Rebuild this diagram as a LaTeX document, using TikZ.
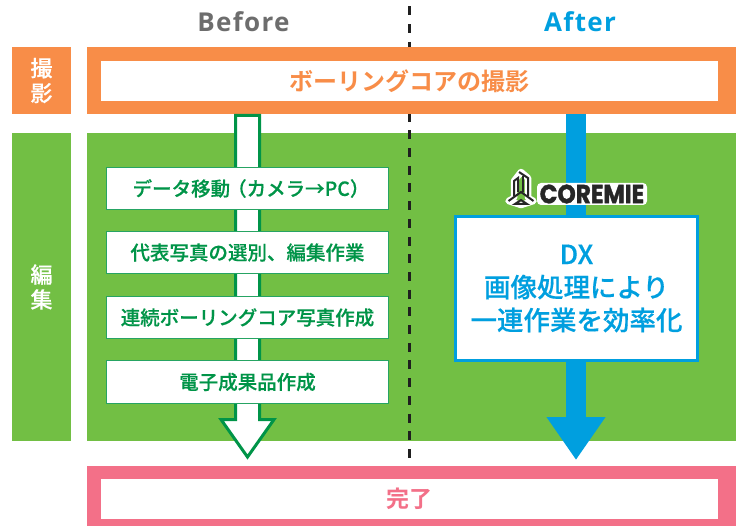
\documentclass[tikz,border=0pt]{standalone}
\usepackage{fontspec}
\setmainfont{Noto Sans CJK JP}[UprightFont=* Medium,BoldFont=* Bold]
\newfontfamily\semifont[UprightFont=* Medium,FakeBold=0.35]{Noto Sans CJK JP}
\newfontfamily\headfont[LetterSpace=5]{Open Sans}
\newfontfamily\logofont[FakeBold=1.5]{Poppins}
\usetikzlibrary{arrows.meta,calc}
\definecolor{shootorange}{HTML}{F88D48}
\definecolor{editgreen}{HTML}{72BF44}
\definecolor{darkgreen}{HTML}{009448}
\definecolor{dxblue}{HTML}{009FDF}
\definecolor{donepink}{HTML}{F37088}
\definecolor{headgray}{HTML}{6D6D6D}
\newcommand{\fsize}[1]{\fontsize{#1}{#1}\selectfont\bfseries}
\newcommand{\msize}[1]{\semifont\fontsize{#1}{#1}\selectfont}
\tikzstyle{panel}=[rectangle,inner sep=0pt,outer sep=0pt,text=white,align=center]
\tikzstyle{inbar}=[rectangle,fill=white,inner sep=0pt,outer sep=0pt,minimum width=617pt,minimum height=40pt]
\tikzstyle{task}=[rectangle,draw=darkgreen!85!white,fill=white,line width=1pt,inner sep=0pt,minimum width=282pt,minimum height=42pt,text=darkgreen,font=\msize{19.5}]
\tikzstyle{hollow}=[draw=darkgreen,fill=white,line width=3pt,miter limit=10]
\tikzstyle{solid}=[dxblue,line width=20pt]
\tikzstyle{logo}=[line width=2pt,draw=black!85]
\begin{document}
\begin{tikzpicture}[x=1pt,y=-1pt]
	\useasboundingbox (0,0) rectangle (736,526);
	\def \bx {247.5};
	\def \ax {576};

	% panels
	\node[panel, fill=shootorange, minimum width=59pt, minimum height=67pt, font=\msize{22}] (shootlab) at (41.5,80.5) {撮\\[3pt]影};
	\node[panel, fill=editgreen, minimum width=59pt, minimum height=308pt, font=\msize{22}] (editlab) at (41.5,287) {編\\[3pt]集};
	\node[panel, fill=editgreen, minimum width=649pt, minimum height=308pt] (edit) at (411.5,287) {};

	% divider
	\coordinate (divtop) at (409.3,6.5);
	\coordinate (divend) at (409.3,463);
	\draw[black!88, line width=3pt, dash pattern=on 9pt off 8.7pt] (divtop) -- (divend);

	\node[panel, fill=shootorange, minimum width=649pt, minimum height=67pt] (shootbar) at (411.5,80.5) {};
	\node[inbar, text=shootorange, font=\fsize{24}] (shoot) at (409.5,81) {ボーリングコアの撮影};
	\node[panel, fill=donepink, minimum width=649pt, minimum height=60pt] (donebar) at (411.5,496) {};
	\node[inbar, text=donepink, font=\fsize{23}] (done) at (409.5,499) {完了};

	\node[font=\headfont\fontsize{26}{26}\selectfont\bfseries, text=headgray] (before) at (243.5,22) {Before};
	\node[font=\headfont\fontsize{26}{26}\selectfont\bfseries, text=dxblue] (after) at (580,22) {After};

	% before arrow
	\coordinate (btop) at (\bx,115.5);
	\coordinate (btip) at (\bx,457);
	\draw[hollow] ($(btop)+(-12,0)$) -- ($(btop)+(12,0)$) -- ($(btip)+(12,-37.5)$) -- ($(btip)+(26.5,-37.5)$) -- (btip)
		-- ($(btip)+(-26.5,-37.5)$) -- ($(btip)+(-12,-37.5)$) -- cycle;

	\node[task] (t1) at (\bx,188.5) {\hspace*{7pt}データ移動\hspace{-3pt}（カメラ→PC）};
	\node[task] (t2) at (\bx,252.5) {代表写真の選別、編集作業};
	\node[task] (t3) at (\bx,317.5) {連続ボーリングコア写真作成};
	\node[task] (t4) at (\bx,382) {電子成果品作成};

	% after arrow
	\coordinate (atip) at (\ax,460);
	\draw[solid, -{Triangle[length=43pt,width=56pt]}] (shootbar.south -| atip) -- (atip);

	\node[rectangle, draw=dxblue, fill=white, line width=3pt, inner sep=0pt, minimum width=242pt, minimum height=144pt,
		text=dxblue, align=center, font=\semifont\fontsize{26.5}{33}\selectfont] (dx) at (576.5,288.5) {DX\\画像処理により\\一連作業を効率化};

	% logo
	\draw[white, line width=6.5pt, line cap=round, line join=round]
		(508.5,201) -- (514,198) -- (514,181) -- (521,172) -- (528,178) -- (528,198) -- (533.5,201) -- (521,205) -- cycle;
	\draw[logo] (508.5,201) -- (521,192) -- (533.5,201);
	\draw[logo] (515,204) -- (521,200) -- (527,204) -- cycle;
	\draw[logo] (514,196) -- (514,181) -- (518,178) -- (518,192);
	\draw[logo] (519,172) -- (528,178) -- (528,196);
	\draw[logo] (523,176) -- (523,192);
	\node[rectangle, fill=white, rounded corners=4pt, inner sep=0pt, minimum width=110pt, minimum height=22pt,
		font=\logofont\bfseries, text=black!85] (coremie) at (592,194) {\scalebox{1.08}[1.22]{\fontsize{21.5}{21.5}\selectfont COREMIE}};
\end{tikzpicture}
\end{document}
